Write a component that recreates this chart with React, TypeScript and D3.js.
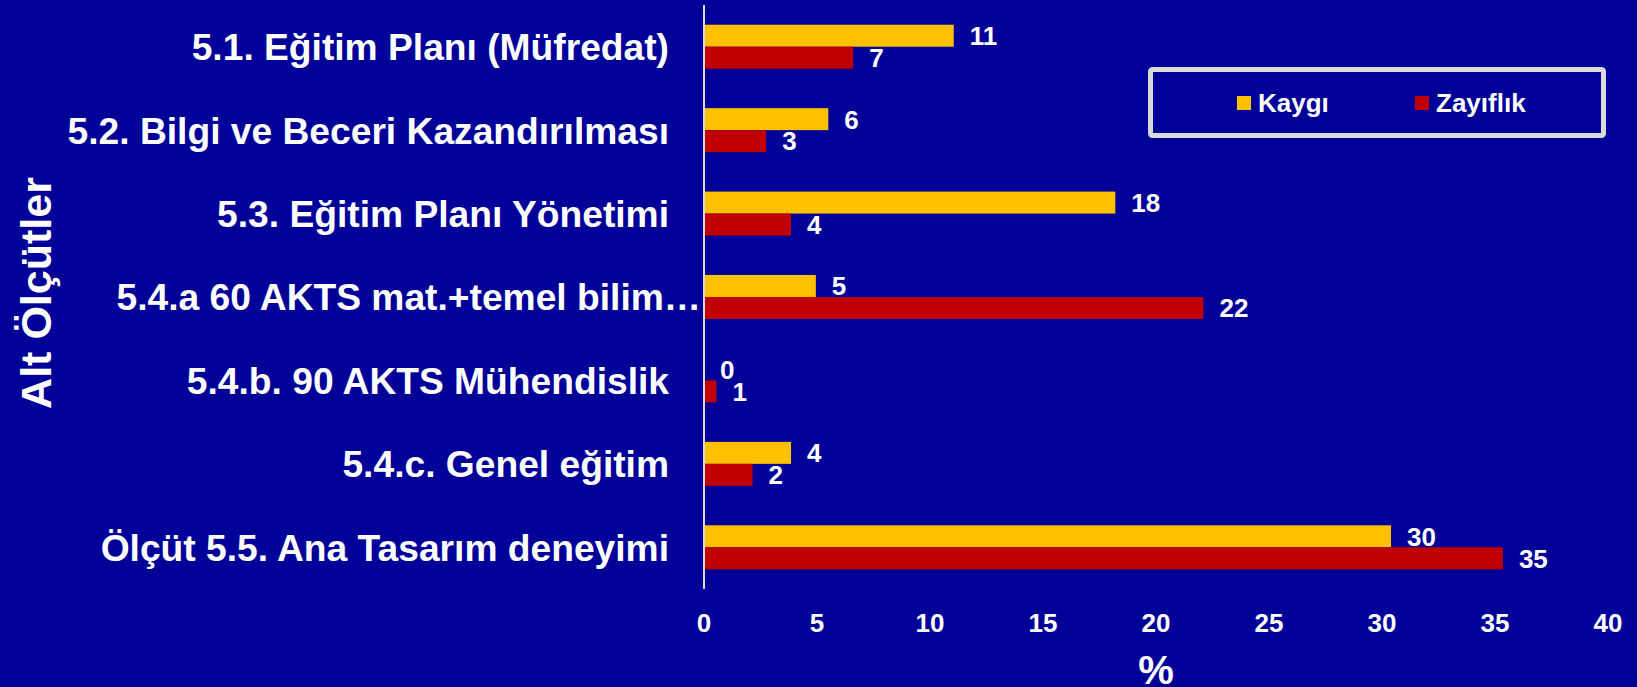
import React, { useRef, useEffect } from 'react';
import * as d3 from 'd3';

// Data
const categories = [
  '5.1. Eğitim Planı (Müfredat)',
  '5.2. Bilgi ve Beceri Kazandırılması',
  '5.3. Eğitim Planı Yönetimi',
  '5.4.a 60 AKTS mat.+temel bilim…',
  '5.4.b. 90 AKTS Mühendislik',
  '5.4.c. Genel eğitim',
  'Ölçüt 5.5. Ana Tasarım deneyimi',
];
const seriesNames = ['Kaygı', 'Zayıflık'];
const kaygi = [11.05, 5.5, 18.2, 4.95, 0, 3.85, 30.4];
const zayiflik = [6.6, 2.75, 3.85, 22.1, 0.55, 2.15, 35.35];
const xTicks = [0, 5, 10, 15, 20, 25, 30, 35, 40];

const W = 1637;
const H = 687;
const BG = '#000099';
const COLORS = ['#FFC000', '#C00000'];
const FONT = '"Liberation Sans", Arial, sans-serif';

const App = () => {
  const svgRef = useRef<SVGSVGElement>(null);

  useEffect(() => {
    if (!svgRef.current) return;
    const svg = d3.select(svgRef.current);
    svg.selectAll('*').remove();

    svg.append('rect').attr('width', W).attr('height', H).attr('fill', BG);

    const x = d3.scaleLinear().domain([0, 40]).range([704, 1608]);
    const y = d3.scaleBand<string>()
      .domain(categories)
      .range([5, 589])
      .paddingInner(0.473)
      .paddingOuter(0.2365);
    const sub = d3.scaleBand<string>()
      .domain(seriesNames)
      .range([0, y.bandwidth()]);

    const rows = categories.map((c, i) => ({ c, vals: [kaygi[i], zayiflik[i]] }));

    // bars + labels
    const g = svg.append('g');
    rows.forEach(r => {
      r.vals.forEach((v, si) => {
        const yy = (y(r.c) as number) + (sub(seriesNames[si]) as number);
        g.append('rect')
          .attr('x', x(0))
          .attr('y', yy)
          .attr('width', x(v) - x(0))
          .attr('height', sub.bandwidth())
          .attr('fill', COLORS[si]);
        g.append('text')
          .attr('x', x(v) + 16)
          .attr('y', yy + sub.bandwidth() / 2)
          .attr('dy', '0.36em')
          .attr('fill', '#fff')
          .style('font', `bold 26px ${FONT}`)
          .text(Math.round(v));
      });
    });

    // category axis line
    svg.append('line')
      .attr('x1', x(0)).attr('x2', x(0))
      .attr('y1', 5).attr('y2', 589)
      .attr('stroke', '#d9d9d9')
      .attr('stroke-width', 2);

    // category labels
    svg.append('g').selectAll('text')
      .data(categories)
      .enter()
      .append('text')
      .attr('x', d => (d.endsWith('…') ? x(0) - 3 : x(0) - 35))
      .attr('y', d => (y(d) as number) + y.bandwidth() / 2)
      .attr('dy', '0.36em')
      .attr('text-anchor', 'end')
      .attr('fill', '#fff')
      .style('font', `bold 37.2px ${FONT}`)
      .text(d => d);

    // value axis tick labels
    svg.append('g').selectAll('text')
      .data(xTicks)
      .enter()
      .append('text')
      .attr('x', d => x(d))
      .attr('y', 632)
      .attr('text-anchor', 'middle')
      .attr('fill', '#fff')
      .style('font', `bold 26px ${FONT}`)
      .text(d => d);

    // axis titles
    svg.append('text')
      .attr('x', (x(0) + x(40)) / 2)
      .attr('y', 684)
      .attr('text-anchor', 'middle')
      .attr('fill', '#fff')
      .style('font', `bold 40px ${FONT}`)
      .text('%');

    svg.append('text')
      .attr('transform', 'translate(51,293) rotate(-90)')
      .attr('text-anchor', 'middle')
      .attr('fill', '#fff')
      .style('font', `bold 43px ${FONT}`)
      .text('Alt Ölçütler');

    // legend
    const lg = svg.append('g');
    lg.append('rect')
      .attr('x', 1150.5).attr('y', 69.5)
      .attr('width', 453).attr('height', 66)
      .attr('fill', 'none')
      .attr('stroke', '#d9d9d9')
      .attr('stroke-width', 5)
      .attr('rx', 2);
    const legendX = [1237, 1415];
    seriesNames.forEach((s, i) => {
      lg.append('rect')
        .attr('x', legendX[i]).attr('y', 96)
        .attr('width', 14).attr('height', 14)
        .attr('fill', COLORS[i]);
      lg.append('text')
        .attr('x', legendX[i] + 21)
        .attr('y', 112)
        .attr('fill', '#fff')
        .style('font', `bold 26px ${FONT}`)
        .text(s);
    });
  }, []);

  return (
    <svg
      ref={svgRef}
      width={W}
      height={H}
      style={{ position: 'absolute', left: 0, top: 0, display: 'block' }}
    />
  );
};

export default App;
